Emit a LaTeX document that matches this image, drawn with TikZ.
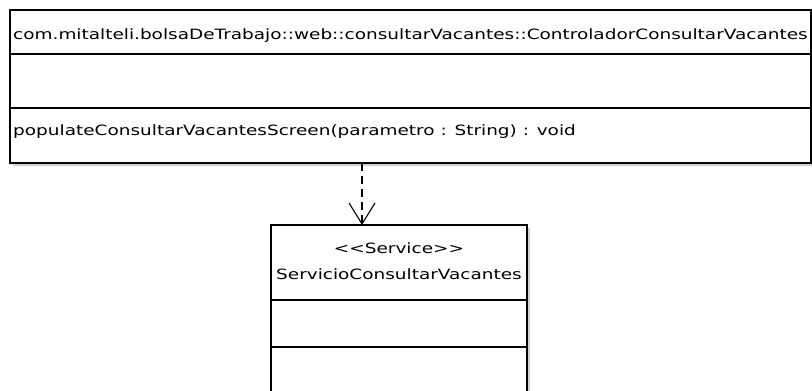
\documentclass[tikz,border=0pt]{standalone}
\usepackage{fontspec}
\setmainfont{DejaVu Sans}[FakeStretch=1.3]
\usetikzlibrary{positioning, arrows.meta, shadows}

\tikzset{
  part/.style={draw, fill=white, rectangle, line width=1.4pt, inner sep=0pt, outer sep=0pt,
    drop shadow={shadow xshift=3pt, shadow yshift=-3pt, fill=black!18, opacity=1}},
  label/.style={font=\fontsize{14.2}{16}\selectfont, inner sep=0pt},
  dep/.style={dashed, dash pattern=on 8pt off 5pt, line width=1.4pt,
    -{Straight Barb[length=21pt, width=26pt, line width=1.1pt]}}
}

\begin{document}
\begin{tikzpicture}[x=1pt, y=-1pt]
  \useasboundingbox (0,0) rectangle (812,391);
  \clip (0,0) rectangle (812,391);

  % controller class
  \node [part, anchor=north west, minimum width=801pt, minimum height=44pt] (ctrlName) at (10,10) {};
  \node [part, below=0pt of ctrlName, minimum width=801pt, minimum height=54pt] (ctrlAttr) {};
  \node [part, below=0pt of ctrlAttr, minimum width=801pt, minimum height=55pt] (ctrlOps) {};

  \node [label, anchor=base west] (ctrlTitle) at (13,39) {com.mitalteli.bolsaDeTrabajo::web::consultarVacantes::ControladorConsultarVacantes};
  \node [label, anchor=base west] (ctrlOp) at (13,135) {populateConsultarVacantesScreen(parametro : String) : void};

  % service class
  \node [part, anchor=north west, minimum width=256pt, minimum height=75pt] (srvName) at (271,225) {};
  \node [part, below=0pt of srvName, minimum width=256pt, minimum height=47pt] (srvAttr) {};
  \node [part, below=0pt of srvAttr, minimum width=256pt, minimum height=60pt] (srvOps) {};

  \node [label, anchor=base] (srvStereo) at (399,253) {<{}<Service>{}>};
  \node [label, anchor=base] (srvTitle) at (399,279) {ServicioConsultarVacantes};

  % dependency
  \coordinate (depFrom) at (362,163);
  \draw [dep] (depFrom) -- (depFrom |- srvName.north);
\end{tikzpicture}
\end{document}
